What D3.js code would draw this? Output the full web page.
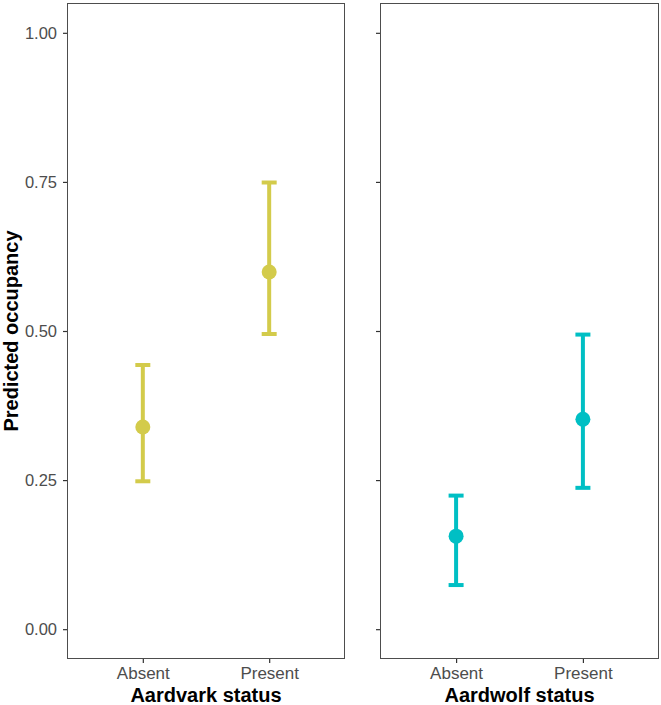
<!DOCTYPE html>
<html><head><meta charset="utf-8">
<script src="https://cdn.jsdelivr.net/npm/d3@7"></script>
<style>body{margin:0;background:#fff}svg{display:block}text{font-family:"Liberation Sans",Arial,sans-serif}</style>
</head><body>
<svg id="c" width="661" height="705"></svg>
<script>
const categories = ["Absent", "Present"];
const panelTitles = ["Aardvark status", "Aardwolf status"];
const panelColors = ["#D3CB4B", "#00BFC4"];
const aardvarkEst = [0.339, 0.599];
const aardvarkLow = [0.248, 0.495];
const aardvarkHigh = [0.443, 0.749];
const aardwolfEst = [0.156, 0.352];
const aardwolfLow = [0.074, 0.237];
const aardwolfHigh = [0.224, 0.494];
const yTicks = [0, 0.25, 0.5, 0.75, 1.0];
const yLabel = "Predicted occupancy";

(function () {
const panels = [
  {title: panelTitles[0], color: panelColors[0], est: aardvarkEst, lo: aardvarkLow, hi: aardvarkHigh, x0: 67, x1: 345, labels: true},
  {title: panelTitles[1], color: panelColors[1], est: aardwolfEst, lo: aardwolfLow, hi: aardwolfHigh, x0: 380, x1: 659, labels: false}
];
const pTop = 3, pBottom = 659;
const svg = d3.select("#c");
const y = d3.scaleLinear().domain([-0.05, 1.05]).range([pBottom, pTop]);

panels.forEach(p => {
  const x = d3.scalePoint().domain(categories).range([p.x0, p.x1]).padding(0.6);
  const g = svg.append("g");
  categories.forEach((c, i) => {
    const cx = x(c);
    g.append("line").attr("x1", cx).attr("x2", cx).attr("y1", y(p.lo[i])).attr("y2", y(p.hi[i]))
      .attr("stroke", p.color).attr("stroke-width", 4);
    [p.lo[i], p.hi[i]].forEach(v => {
      g.append("line").attr("x1", cx - 7.5).attr("x2", cx + 7.5).attr("y1", y(v)).attr("y2", y(v))
        .attr("stroke", p.color).attr("stroke-width", 4);
    });
    g.append("circle").attr("cx", cx).attr("cy", y(p.est[i])).attr("r", 7.5).attr("fill", p.color);
  });
  g.append("rect").attr("x", p.x0 + 0.5).attr("y", pTop + 0.5).attr("width", p.x1 - p.x0 - 1).attr("height", pBottom - pTop - 1)
    .attr("fill", "none").attr("stroke", "#4d4d4d").attr("stroke-width", 1);
  const ya = svg.append("g").attr("transform", `translate(${p.x0},0)`)
    .call(d3.axisLeft(y).tickValues(yTicks).tickSize(4).tickPadding(6)
      .tickFormat(p.labels ? d3.format(".2f") : () => ""));
  ya.select(".domain").remove();
  ya.selectAll(".tick line").attr("stroke", "#333").attr("stroke-width", 1.2);
  ya.selectAll(".tick text").attr("fill", "#4d4d4d").style("font-size", "16.5px");
  const xa = svg.append("g").attr("transform", `translate(0,${pBottom})`)
    .call(d3.axisBottom(x).tickSize(4).tickPadding(4));
  xa.select(".domain").remove();
  xa.selectAll(".tick line").attr("stroke", "#333").attr("stroke-width", 1.2);
  xa.selectAll(".tick text").attr("fill", "#4d4d4d").style("font-size", "17px");
  svg.append("text").attr("x", (p.x0 + p.x1) / 2).attr("y", 702).attr("text-anchor", "middle")
    .style("font-size", "20px").style("font-weight", "bold").attr("fill", "#000").text(p.title);
});

svg.append("text").attr("transform", `translate(18,${(pTop + pBottom) / 2}) rotate(-90)`)
  .attr("text-anchor", "middle").style("font-size", "20px").style("font-weight", "bold").attr("fill", "#000").text(yLabel);
})();
</script>
</body></html>
